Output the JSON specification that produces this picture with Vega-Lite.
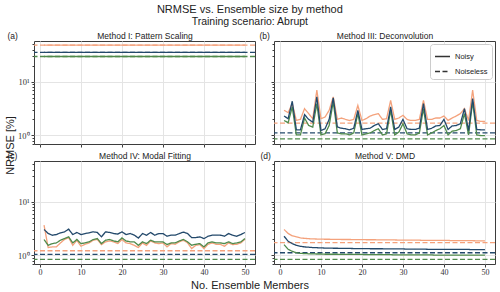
{
"$schema": "https://vega.github.io/schema/vega-lite/v6.json",
"padding": {"left": 3, "top": 3, "right": 6, "bottom": 1},
"title": {"text": "NRMSE vs. Ensemble size by method", "subtitle": "Training scenario: Abrupt", "anchor": "middle", "fontSize": 11, "fontWeight": "normal", "color": "#222", "font": "Liberation Sans", "subtitleFontSize": 10.5, "subtitleColor": "#222", "subtitlePadding": 2, "offset": 4, "subtitleFont": "Liberation Sans"},
"config": {
  "font": "Liberation Sans",
  "view": {"stroke": "#3d3d3d", "strokeWidth": 1},
  "axis": {"domain": false, "gridColor": "#e4e4e4", "gridWidth": 1, "tickColor": "#3d3d3d", "tickSize": 3, "labelFont": "Liberation Serif", "labelFontSize": 8.5, "labelColor": "#333", "titleFontWeight": "normal", "titleColor": "#222", "titleFont": "Liberation Sans"},
  "legend": {"title": null, "fillColor": "white", "strokeColor": "#cccccc", "cornerRadius": 3, "padding": 5, "labelFontSize": 8, "labelFont": "Liberation Sans", "labelColor": "#222", "symbolType": "stroke", "symbolSize": 300, "symbolStrokeWidth": 1.5, "rowPadding": 3}
},
"datasets": {
"noiseless": [
{"p":"a","scenario":"High Emissions","type":"Noiseless","nrmse":48.6},
{"p":"a","scenario":"Plateau","type":"Noiseless","nrmse":29.8},
{"p":"a","scenario":"Overshoot","type":"Noiseless","nrmse":35.5},
{"p":"b","scenario":"High Emissions","type":"Noiseless","nrmse":1.70},
{"p":"b","scenario":"Plateau","type":"Noiseless","nrmse":0.86},
{"p":"b","scenario":"Overshoot","type":"Noiseless","nrmse":1.11},
{"p":"c","scenario":"High Emissions","type":"Noiseless","nrmse":1.22},
{"p":"c","scenario":"Plateau","type":"Noiseless","nrmse":0.84},
{"p":"c","scenario":"Overshoot","type":"Noiseless","nrmse":1.04},
{"p":"d","scenario":"High Emissions","type":"Noiseless","nrmse":1.73},
{"p":"d","scenario":"Plateau","type":"Noiseless","nrmse":0.84},
{"p":"d","scenario":"Overshoot","type":"Noiseless","nrmse":1.12}
],
"noisy": [
{"p":"a","n":1,"type":"Noisy","High Emissions":48.6,"Plateau":29.8,"Overshoot":35.5},
{"p":"a","n":2,"type":"Noisy","High Emissions":48.6,"Plateau":29.8,"Overshoot":35.5},
{"p":"a","n":3,"type":"Noisy","High Emissions":48.6,"Plateau":29.8,"Overshoot":35.5},
{"p":"a","n":4,"type":"Noisy","High Emissions":48.6,"Plateau":29.8,"Overshoot":35.5},
{"p":"a","n":5,"type":"Noisy","High Emissions":48.6,"Plateau":29.8,"Overshoot":35.5},
{"p":"a","n":6,"type":"Noisy","High Emissions":48.6,"Plateau":29.8,"Overshoot":35.5},
{"p":"a","n":7,"type":"Noisy","High Emissions":48.6,"Plateau":29.8,"Overshoot":35.5},
{"p":"a","n":8,"type":"Noisy","High Emissions":48.6,"Plateau":29.8,"Overshoot":35.5},
{"p":"a","n":9,"type":"Noisy","High Emissions":48.6,"Plateau":29.8,"Overshoot":35.5},
{"p":"a","n":10,"type":"Noisy","High Emissions":48.6,"Plateau":29.8,"Overshoot":35.5},
{"p":"a","n":11,"type":"Noisy","High Emissions":48.6,"Plateau":29.8,"Overshoot":35.5},
{"p":"a","n":12,"type":"Noisy","High Emissions":48.6,"Plateau":29.8,"Overshoot":35.5},
{"p":"a","n":13,"type":"Noisy","High Emissions":48.6,"Plateau":29.8,"Overshoot":35.5},
{"p":"a","n":14,"type":"Noisy","High Emissions":48.6,"Plateau":29.8,"Overshoot":35.5},
{"p":"a","n":15,"type":"Noisy","High Emissions":48.6,"Plateau":29.8,"Overshoot":35.5},
{"p":"a","n":16,"type":"Noisy","High Emissions":48.6,"Plateau":29.8,"Overshoot":35.5},
{"p":"a","n":17,"type":"Noisy","High Emissions":48.6,"Plateau":29.8,"Overshoot":35.5},
{"p":"a","n":18,"type":"Noisy","High Emissions":48.6,"Plateau":29.8,"Overshoot":35.5},
{"p":"a","n":19,"type":"Noisy","High Emissions":48.6,"Plateau":29.8,"Overshoot":35.5},
{"p":"a","n":20,"type":"Noisy","High Emissions":48.6,"Plateau":29.8,"Overshoot":35.5},
{"p":"a","n":21,"type":"Noisy","High Emissions":48.6,"Plateau":29.8,"Overshoot":35.5},
{"p":"a","n":22,"type":"Noisy","High Emissions":48.6,"Plateau":29.8,"Overshoot":35.5},
{"p":"a","n":23,"type":"Noisy","High Emissions":48.6,"Plateau":29.8,"Overshoot":35.5},
{"p":"a","n":24,"type":"Noisy","High Emissions":48.6,"Plateau":29.8,"Overshoot":35.5},
{"p":"a","n":25,"type":"Noisy","High Emissions":48.6,"Plateau":29.8,"Overshoot":35.5},
{"p":"a","n":26,"type":"Noisy","High Emissions":48.6,"Plateau":29.8,"Overshoot":35.5},
{"p":"a","n":27,"type":"Noisy","High Emissions":48.6,"Plateau":29.8,"Overshoot":35.5},
{"p":"a","n":28,"type":"Noisy","High Emissions":48.6,"Plateau":29.8,"Overshoot":35.5},
{"p":"a","n":29,"type":"Noisy","High Emissions":48.6,"Plateau":29.8,"Overshoot":35.5},
{"p":"a","n":30,"type":"Noisy","High Emissions":48.6,"Plateau":29.8,"Overshoot":35.5},
{"p":"a","n":31,"type":"Noisy","High Emissions":48.6,"Plateau":29.8,"Overshoot":35.5},
{"p":"a","n":32,"type":"Noisy","High Emissions":48.6,"Plateau":29.8,"Overshoot":35.5},
{"p":"a","n":33,"type":"Noisy","High Emissions":48.6,"Plateau":29.8,"Overshoot":35.5},
{"p":"a","n":34,"type":"Noisy","High Emissions":48.6,"Plateau":29.8,"Overshoot":35.5},
{"p":"a","n":35,"type":"Noisy","High Emissions":48.6,"Plateau":29.8,"Overshoot":35.5},
{"p":"a","n":36,"type":"Noisy","High Emissions":48.6,"Plateau":29.8,"Overshoot":35.5},
{"p":"a","n":37,"type":"Noisy","High Emissions":48.6,"Plateau":29.8,"Overshoot":35.5},
{"p":"a","n":38,"type":"Noisy","High Emissions":48.6,"Plateau":29.8,"Overshoot":35.5},
{"p":"a","n":39,"type":"Noisy","High Emissions":48.6,"Plateau":29.8,"Overshoot":35.5},
{"p":"a","n":40,"type":"Noisy","High Emissions":48.6,"Plateau":29.8,"Overshoot":35.5},
{"p":"a","n":41,"type":"Noisy","High Emissions":48.6,"Plateau":29.8,"Overshoot":35.5},
{"p":"a","n":42,"type":"Noisy","High Emissions":48.6,"Plateau":29.8,"Overshoot":35.5},
{"p":"a","n":43,"type":"Noisy","High Emissions":48.6,"Plateau":29.8,"Overshoot":35.5},
{"p":"a","n":44,"type":"Noisy","High Emissions":48.6,"Plateau":29.8,"Overshoot":35.5},
{"p":"a","n":45,"type":"Noisy","High Emissions":48.6,"Plateau":29.8,"Overshoot":35.5},
{"p":"a","n":46,"type":"Noisy","High Emissions":48.6,"Plateau":29.8,"Overshoot":35.5},
{"p":"a","n":47,"type":"Noisy","High Emissions":48.6,"Plateau":29.8,"Overshoot":35.5},
{"p":"a","n":48,"type":"Noisy","High Emissions":48.6,"Plateau":29.8,"Overshoot":35.5},
{"p":"a","n":49,"type":"Noisy","High Emissions":48.6,"Plateau":29.8,"Overshoot":35.5},
{"p":"a","n":50,"type":"Noisy","High Emissions":48.6,"Plateau":29.8,"Overshoot":35.5},
{"p":"b","n":1,"type":"Noisy","High Emissions":2.94,"Plateau":1.90,"Overshoot":2.30},
{"p":"b","n":2,"type":"Noisy","High Emissions":2.66,"Plateau":1.72,"Overshoot":2.05},
{"p":"b","n":3,"type":"Noisy","High Emissions":3.93,"Plateau":3.40,"Overshoot":4.34},
{"p":"b","n":4,"type":"Noisy","High Emissions":1.90,"Plateau":1.02,"Overshoot":1.27},
{"p":"b","n":5,"type":"Noisy","High Emissions":1.99,"Plateau":1.02,"Overshoot":1.27},
{"p":"b","n":6,"type":"Noisy","High Emissions":3.16,"Plateau":2.11,"Overshoot":2.44},
{"p":"b","n":7,"type":"Noisy","High Emissions":2.55,"Plateau":1.53,"Overshoot":1.99},
{"p":"b","n":8,"type":"Noisy","High Emissions":2.05,"Plateau":1.43,"Overshoot":1.77},
{"p":"b","n":9,"type":"Noisy","High Emissions":7.0,"Plateau":3.93,"Overshoot":5.25},
{"p":"b","n":10,"type":"Noisy","High Emissions":2.05,"Plateau":1.02,"Overshoot":1.23},
{"p":"b","n":11,"type":"Noisy","High Emissions":2.2,"Plateau":1.07,"Overshoot":1.33},
{"p":"b","n":12,"type":"Noisy","High Emissions":2.94,"Plateau":1.53,"Overshoot":1.99},
{"p":"b","n":13,"type":"Noisy","High Emissions":5.25,"Plateau":4.23,"Overshoot":5.03},
{"p":"b","n":14,"type":"Noisy","High Emissions":1.99,"Plateau":1.11,"Overshoot":1.43},
{"p":"b","n":15,"type":"Noisy","High Emissions":2.11,"Plateau":1.07,"Overshoot":1.36},
{"p":"b","n":16,"type":"Noisy","High Emissions":1.99,"Plateau":1.07,"Overshoot":1.33},
{"p":"b","n":17,"type":"Noisy","High Emissions":1.90,"Plateau":1.02,"Overshoot":1.27},
{"p":"b","n":18,"type":"Noisy","High Emissions":1.99,"Plateau":1.11,"Overshoot":1.36},
{"p":"b","n":19,"type":"Noisy","High Emissions":3.64,"Plateau":2.55,"Overshoot":2.94},
{"p":"b","n":20,"type":"Noisy","High Emissions":1.90,"Plateau":1.02,"Overshoot":1.29},
{"p":"b","n":21,"type":"Noisy","High Emissions":2.05,"Plateau":1.07,"Overshoot":1.33},
{"p":"b","n":22,"type":"Noisy","High Emissions":2.3,"Plateau":1.11,"Overshoot":1.36},
{"p":"b","n":23,"type":"Noisy","High Emissions":2.44,"Plateau":1.23,"Overshoot":1.53},
{"p":"b","n":24,"type":"Noisy","High Emissions":2.55,"Plateau":1.33,"Overshoot":1.65},
{"p":"b","n":25,"type":"Noisy","High Emissions":1.99,"Plateau":1.02,"Overshoot":1.29},
{"p":"b","n":26,"type":"Noisy","High Emissions":2.05,"Plateau":1.07,"Overshoot":1.33},
{"p":"b","n":27,"type":"Noisy","High Emissions":4.5,"Plateau":2.94,"Overshoot":3.40},
{"p":"b","n":28,"type":"Noisy","High Emissions":1.99,"Plateau":1.02,"Overshoot":1.29},
{"p":"b","n":29,"type":"Noisy","High Emissions":2.11,"Plateau":1.15,"Overshoot":1.43},
{"p":"b","n":30,"type":"Noisy","High Emissions":2.37,"Plateau":1.65,"Overshoot":1.99},
{"p":"b","n":31,"type":"Noisy","High Emissions":1.99,"Plateau":1.07,"Overshoot":1.33},
{"p":"b","n":32,"type":"Noisy","High Emissions":1.90,"Plateau":1.02,"Overshoot":1.29},
{"p":"b","n":33,"type":"Noisy","High Emissions":1.90,"Plateau":1.02,"Overshoot":1.29},
{"p":"b","n":34,"type":"Noisy","High Emissions":1.99,"Plateau":1.11,"Overshoot":1.36},
{"p":"b","n":35,"type":"Noisy","High Emissions":4.5,"Plateau":3.16,"Overshoot":3.93},
{"p":"b","n":36,"type":"Noisy","High Emissions":1.99,"Plateau":1.02,"Overshoot":1.29},
{"p":"b","n":37,"type":"Noisy","High Emissions":1.99,"Plateau":1.11,"Overshoot":1.36},
{"p":"b","n":38,"type":"Noisy","High Emissions":2.11,"Plateau":1.23,"Overshoot":1.5},
{"p":"b","n":39,"type":"Noisy","High Emissions":2.11,"Plateau":1.33,"Overshoot":1.53},
{"p":"b","n":40,"type":"Noisy","High Emissions":2.3,"Plateau":1.53,"Overshoot":1.99},
{"p":"b","n":41,"type":"Noisy","High Emissions":1.90,"Plateau":1.02,"Overshoot":1.29},
{"p":"b","n":42,"type":"Noisy","High Emissions":2.11,"Plateau":1.2,"Overshoot":1.5},
{"p":"b","n":43,"type":"Noisy","High Emissions":2.3,"Plateau":1.23,"Overshoot":1.53},
{"p":"b","n":44,"type":"Noisy","High Emissions":2.55,"Plateau":1.33,"Overshoot":1.65},
{"p":"b","n":45,"type":"Noisy","High Emissions":3.16,"Plateau":2.55,"Overshoot":3.16},
{"p":"b","n":46,"type":"Noisy","High Emissions":1.90,"Plateau":1.02,"Overshoot":1.23},
{"p":"b","n":47,"type":"Noisy","High Emissions":7.0,"Plateau":4.23,"Overshoot":4.88},
{"p":"b","n":48,"type":"Noisy","High Emissions":1.90,"Plateau":1.02,"Overshoot":1.29},
{"p":"b","n":49,"type":"Noisy","High Emissions":1.82,"Plateau":0.99,"Overshoot":1.27},
{"p":"b","n":50,"type":"Noisy","High Emissions":1.82,"Plateau":0.99,"Overshoot":1.27},
{"p":"c","n":1,"type":"Noisy","High Emissions":3.68,"Plateau":1.98,"Overshoot":3.05},
{"p":"c","n":2,"type":"Noisy","High Emissions":1.40,"Plateau":1.54,"Overshoot":2.57},
{"p":"c","n":3,"type":"Noisy","High Emissions":1.44,"Plateau":1.66,"Overshoot":2.38},
{"p":"c","n":4,"type":"Noisy","High Emissions":1.44,"Plateau":1.71,"Overshoot":2.45},
{"p":"c","n":5,"type":"Noisy","High Emissions":1.71,"Plateau":1.92,"Overshoot":2.64},
{"p":"c","n":6,"type":"Noisy","High Emissions":1.98,"Plateau":2.06,"Overshoot":2.75},
{"p":"c","n":7,"type":"Noisy","High Emissions":2.15,"Plateau":2.22,"Overshoot":3.09},
{"p":"c","n":8,"type":"Noisy","High Emissions":1.54,"Plateau":1.71,"Overshoot":2.45},
{"p":"c","n":9,"type":"Noisy","High Emissions":1.92,"Plateau":1.98,"Overshoot":2.68},
{"p":"c","n":10,"type":"Noisy","High Emissions":1.48,"Plateau":1.66,"Overshoot":2.45},
{"p":"c","n":11,"type":"Noisy","High Emissions":1.61,"Plateau":1.71,"Overshoot":2.56},
{"p":"c","n":12,"type":"Noisy","High Emissions":1.71,"Plateau":1.79,"Overshoot":2.64},
{"p":"c","n":13,"type":"Noisy","High Emissions":1.92,"Plateau":1.98,"Overshoot":2.75},
{"p":"c","n":14,"type":"Noisy","High Emissions":1.98,"Plateau":2.06,"Overshoot":2.68},
{"p":"c","n":15,"type":"Noisy","High Emissions":1.59,"Plateau":1.66,"Overshoot":2.22},
{"p":"c","n":16,"type":"Noisy","High Emissions":1.79,"Plateau":1.92,"Overshoot":2.75},
{"p":"c","n":17,"type":"Noisy","High Emissions":1.86,"Plateau":1.98,"Overshoot":2.68},
{"p":"c","n":18,"type":"Noisy","High Emissions":1.79,"Plateau":1.86,"Overshoot":2.56},
{"p":"c","n":19,"type":"Noisy","High Emissions":1.66,"Plateau":1.79,"Overshoot":2.5},
{"p":"c","n":20,"type":"Noisy","High Emissions":1.98,"Plateau":2.12,"Overshoot":2.75},
{"p":"c","n":21,"type":"Noisy","High Emissions":1.71,"Plateau":1.86,"Overshoot":2.45},
{"p":"c","n":22,"type":"Noisy","High Emissions":1.66,"Plateau":1.79,"Overshoot":2.56},
{"p":"c","n":23,"type":"Noisy","High Emissions":1.54,"Plateau":1.79,"Overshoot":2.4},
{"p":"c","n":24,"type":"Noisy","High Emissions":1.40,"Plateau":1.54,"Overshoot":2.1},
{"p":"c","n":25,"type":"Noisy","High Emissions":1.71,"Plateau":1.79,"Overshoot":2.56},
{"p":"c","n":26,"type":"Noisy","High Emissions":1.54,"Plateau":1.66,"Overshoot":2.38},
{"p":"c","n":27,"type":"Noisy","High Emissions":1.86,"Plateau":1.92,"Overshoot":2.68},
{"p":"c","n":28,"type":"Noisy","High Emissions":1.71,"Plateau":1.79,"Overshoot":2.38},
{"p":"c","n":29,"type":"Noisy","High Emissions":1.66,"Plateau":1.79,"Overshoot":2.56},
{"p":"c","n":30,"type":"Noisy","High Emissions":1.71,"Plateau":1.79,"Overshoot":2.56},
{"p":"c","n":31,"type":"Noisy","High Emissions":1.44,"Plateau":1.59,"Overshoot":2.28},
{"p":"c","n":32,"type":"Noisy","High Emissions":1.66,"Plateau":1.71,"Overshoot":2.38},
{"p":"c","n":33,"type":"Noisy","High Emissions":1.61,"Plateau":1.71,"Overshoot":2.38},
{"p":"c","n":34,"type":"Noisy","High Emissions":1.79,"Plateau":1.86,"Overshoot":2.56},
{"p":"c","n":35,"type":"Noisy","High Emissions":1.92,"Plateau":1.98,"Overshoot":2.72},
{"p":"c","n":36,"type":"Noisy","High Emissions":1.71,"Plateau":1.79,"Overshoot":2.56},
{"p":"c","n":37,"type":"Noisy","High Emissions":1.34,"Plateau":1.54,"Overshoot":2.15},
{"p":"c","n":38,"type":"Noisy","High Emissions":1.54,"Plateau":1.61,"Overshoot":2.15},
{"p":"c","n":39,"type":"Noisy","High Emissions":1.59,"Plateau":1.66,"Overshoot":2.22},
{"p":"c","n":40,"type":"Noisy","High Emissions":1.34,"Plateau":1.44,"Overshoot":2.06},
{"p":"c","n":41,"type":"Noisy","High Emissions":1.61,"Plateau":1.71,"Overshoot":2.28},
{"p":"c","n":42,"type":"Noisy","High Emissions":1.71,"Plateau":1.79,"Overshoot":2.38},
{"p":"c","n":43,"type":"Noisy","High Emissions":1.61,"Plateau":1.71,"Overshoot":2.38},
{"p":"c","n":44,"type":"Noisy","High Emissions":1.61,"Plateau":1.71,"Overshoot":2.38},
{"p":"c","n":45,"type":"Noisy","High Emissions":1.48,"Plateau":1.66,"Overshoot":2.28},
{"p":"c","n":46,"type":"Noisy","High Emissions":1.71,"Plateau":1.79,"Overshoot":2.56},
{"p":"c","n":47,"type":"Noisy","High Emissions":1.59,"Plateau":1.66,"Overshoot":2.38},
{"p":"c","n":48,"type":"Noisy","High Emissions":1.61,"Plateau":1.71,"Overshoot":2.28},
{"p":"c","n":49,"type":"Noisy","High Emissions":1.71,"Plateau":1.79,"Overshoot":2.45},
{"p":"c","n":50,"type":"Noisy","High Emissions":2.0,"Plateau":2.06,"Overshoot":2.68},
{"p":"d","n":1,"type":"Noisy","High Emissions":3.05,"Plateau":1.59,"Overshoot":2.28},
{"p":"d","n":2,"type":"Noisy","High Emissions":2.57,"Plateau":1.30,"Overshoot":1.84},
{"p":"d","n":3,"type":"Noisy","High Emissions":2.32,"Plateau":1.19,"Overshoot":1.66},
{"p":"d","n":4,"type":"Noisy","High Emissions":2.22,"Plateau":1.12,"Overshoot":1.54},
{"p":"d","n":5,"type":"Noisy","High Emissions":2.12,"Plateau":1.09,"Overshoot":1.48},
{"p":"d","n":6,"type":"Noisy","High Emissions":2.08,"Plateau":1.08,"Overshoot":1.44},
{"p":"d","n":7,"type":"Noisy","High Emissions":2.05,"Plateau":1.07,"Overshoot":1.42},
{"p":"d","n":8,"type":"Noisy","High Emissions":2.03,"Plateau":1.07,"Overshoot":1.40},
{"p":"d","n":9,"type":"Noisy","High Emissions":2.02,"Plateau":1.06,"Overshoot":1.39},
{"p":"d","n":10,"type":"Noisy","High Emissions":2.01,"Plateau":1.06,"Overshoot":1.38},
{"p":"d","n":11,"type":"Noisy","High Emissions":2.0,"Plateau":1.05,"Overshoot":1.37},
{"p":"d","n":12,"type":"Noisy","High Emissions":2.0,"Plateau":1.05,"Overshoot":1.37},
{"p":"d","n":13,"type":"Noisy","High Emissions":1.99,"Plateau":1.05,"Overshoot":1.36},
{"p":"d","n":14,"type":"Noisy","High Emissions":1.99,"Plateau":1.05,"Overshoot":1.36},
{"p":"d","n":15,"type":"Noisy","High Emissions":1.98,"Plateau":1.04,"Overshoot":1.35},
{"p":"d","n":16,"type":"Noisy","High Emissions":1.98,"Plateau":1.04,"Overshoot":1.35},
{"p":"d","n":17,"type":"Noisy","High Emissions":1.98,"Plateau":1.04,"Overshoot":1.35},
{"p":"d","n":18,"type":"Noisy","High Emissions":1.97,"Plateau":1.04,"Overshoot":1.34},
{"p":"d","n":19,"type":"Noisy","High Emissions":1.97,"Plateau":1.04,"Overshoot":1.34},
{"p":"d","n":20,"type":"Noisy","High Emissions":1.97,"Plateau":1.04,"Overshoot":1.34},
{"p":"d","n":21,"type":"Noisy","High Emissions":1.96,"Plateau":1.03,"Overshoot":1.34},
{"p":"d","n":22,"type":"Noisy","High Emissions":1.96,"Plateau":1.03,"Overshoot":1.33},
{"p":"d","n":23,"type":"Noisy","High Emissions":1.96,"Plateau":1.03,"Overshoot":1.33},
{"p":"d","n":24,"type":"Noisy","High Emissions":1.95,"Plateau":1.03,"Overshoot":1.33},
{"p":"d","n":25,"type":"Noisy","High Emissions":1.95,"Plateau":1.03,"Overshoot":1.33},
{"p":"d","n":26,"type":"Noisy","High Emissions":1.95,"Plateau":1.03,"Overshoot":1.32},
{"p":"d","n":27,"type":"Noisy","High Emissions":1.94,"Plateau":1.03,"Overshoot":1.32},
{"p":"d","n":28,"type":"Noisy","High Emissions":1.94,"Plateau":1.02,"Overshoot":1.32},
{"p":"d","n":29,"type":"Noisy","High Emissions":1.93,"Plateau":1.02,"Overshoot":1.32},
{"p":"d","n":30,"type":"Noisy","High Emissions":1.93,"Plateau":1.02,"Overshoot":1.32},
{"p":"d","n":31,"type":"Noisy","High Emissions":1.93,"Plateau":1.02,"Overshoot":1.31},
{"p":"d","n":32,"type":"Noisy","High Emissions":1.92,"Plateau":1.02,"Overshoot":1.31},
{"p":"d","n":33,"type":"Noisy","High Emissions":1.92,"Plateau":1.02,"Overshoot":1.31},
{"p":"d","n":34,"type":"Noisy","High Emissions":1.92,"Plateau":1.02,"Overshoot":1.31},
{"p":"d","n":35,"type":"Noisy","High Emissions":1.91,"Plateau":1.02,"Overshoot":1.31},
{"p":"d","n":36,"type":"Noisy","High Emissions":1.91,"Plateau":1.02,"Overshoot":1.3},
{"p":"d","n":37,"type":"Noisy","High Emissions":1.91,"Plateau":1.02,"Overshoot":1.3},
{"p":"d","n":38,"type":"Noisy","High Emissions":1.9,"Plateau":1.01,"Overshoot":1.3},
{"p":"d","n":39,"type":"Noisy","High Emissions":1.9,"Plateau":1.01,"Overshoot":1.3},
{"p":"d","n":40,"type":"Noisy","High Emissions":1.9,"Plateau":1.01,"Overshoot":1.3},
{"p":"d","n":41,"type":"Noisy","High Emissions":1.9,"Plateau":1.01,"Overshoot":1.3},
{"p":"d","n":42,"type":"Noisy","High Emissions":1.89,"Plateau":1.01,"Overshoot":1.29},
{"p":"d","n":43,"type":"Noisy","High Emissions":1.89,"Plateau":1.01,"Overshoot":1.29},
{"p":"d","n":44,"type":"Noisy","High Emissions":1.89,"Plateau":1.01,"Overshoot":1.29},
{"p":"d","n":45,"type":"Noisy","High Emissions":1.88,"Plateau":1.01,"Overshoot":1.29},
{"p":"d","n":46,"type":"Noisy","High Emissions":1.88,"Plateau":1.01,"Overshoot":1.29},
{"p":"d","n":47,"type":"Noisy","High Emissions":1.88,"Plateau":1.01,"Overshoot":1.28},
{"p":"d","n":48,"type":"Noisy","High Emissions":1.87,"Plateau":1.01,"Overshoot":1.28},
{"p":"d","n":49,"type":"Noisy","High Emissions":1.87,"Plateau":1.01,"Overshoot":1.28},
{"p":"d","n":50,"type":"Noisy","High Emissions":1.87,"Plateau":1.01,"Overshoot":1.28}
]
},
"columns": 2,
"spacing": {"row": 17, "column": 19},
"bounds": "flush",
"resolve": {"scale": {"color": "independent", "strokeDash": "independent"}, "legend": {"color": "independent", "strokeDash": "independent"}},
"concat": [
{
  "width": 221, "height": 103,
  "layer": [
    {
      "data": {"name": "noiseless"},
      "transform": [{"filter": "datum.p === 'a'"}],
      "mark": {"type": "rule", "strokeWidth": 1.3},
      "encoding": {
        "y": {"field": "nrmse", "type": "quantitative", "scale": {"type": "log", "domain": [0.69, 58], "nice": false}, "axis": {"orient": "left", "values": [0.7,0.8,0.9,2,3,4,5,6,7,8,9,20,30,40,50], "labels": false, "grid": false, "tickSize": 2, "title": "(a)", "titleAngle": 0, "titleX": -27, "titleY": -5.5, "titleAlign": "left", "titleBaseline": "middle", "titleFontSize": 8.5}},
        "color": {"field": "scenario", "type": "nominal", "scale": {"domain": ["High Emissions","Plateau","Overshoot"], "range": ["#f4a27c","#4f8a4b","#23496b"]}, "legend": null},
        "strokeDash": {"field": "type", "type": "nominal", "scale": {"domain": ["Noisy","Noiseless"], "range": [[1,0],[5,2.5]]}, "legend": null}
      }
    },
    {
      "data": {"name": "noisy"},
      "transform": [{"filter": "datum.p === 'a'"}, {"fold": ["High Emissions","Plateau","Overshoot"], "as": ["scenario","nrmse"]}],
      "mark": {"type": "line", "strokeWidth": 1.3},
      "encoding": {
        "x": {"field": "n", "type": "quantitative", "scale": {"domain": [-1.45, 52.45], "nice": false, "zero": false}, "axis": {"values": [0,10,20,30,40,50], "labels": false, "grid": true, "title": "NRMSE [%]", "titleAngle": -90, "titleX": -19, "titleY": 1, "titleAlign": "center", "titleBaseline": "bottom", "titleFontSize": 11}},
        "y": {"field": "nrmse", "type": "quantitative", "axis": {"orient": "left", "values": [1,10], "labelExpr": "datum.value < 5 ? '10⁰' : '10¹'", "grid": true, "title": "Method I: Pattern Scaling", "titleAngle": 0, "titleX": 110.5, "titleY": -5.5, "titleAlign": "center", "titleBaseline": "middle", "titleFontSize": 8.5}},
        "color": {"field": "scenario", "type": "nominal", "legend": {"orient": "bottom-left", "offset": 4}},
        "strokeDash": {"field": "type", "type": "nominal", "legend": null}
      }
    }
  ],
  "resolve": {"axis": {"y": "independent"}}
},
{
  "width": 221, "height": 103,
  "layer": [
    {
      "data": {"name": "noiseless"},
      "transform": [{"filter": "datum.p === 'b'"}],
      "mark": {"type": "rule", "strokeWidth": 1.3},
      "encoding": {
        "y": {"field": "nrmse", "type": "quantitative", "scale": {"type": "log", "domain": [0.69, 58], "nice": false}, "axis": {"orient": "left", "values": [0.7,0.8,0.9,2,3,4,5,6,7,8,9,20,30,40,50], "labels": false, "grid": false, "tickSize": 2, "title": "(b)", "titleAngle": 0, "titleX": -15, "titleY": -5.5, "titleAlign": "left", "titleBaseline": "middle", "titleFontSize": 8.5}},
        "color": {"field": "scenario", "type": "nominal", "scale": {"domain": ["High Emissions","Plateau","Overshoot"], "range": ["#f4a27c","#4f8a4b","#23496b"]}, "legend": null},
        "strokeDash": {"field": "type", "type": "nominal", "scale": {"domain": ["Noisy","Noiseless"], "range": [[1,0],[5,2.5]]}, "legend": {"orient": "top-right", "offset": 3, "symbolStrokeColor": "#333333", "symbolSize": 225, "labelFontSize": 7.5, "padding": 4}}
      }
    },
    {
      "data": {"name": "noisy"},
      "transform": [{"filter": "datum.p === 'b'"}, {"fold": ["High Emissions","Plateau","Overshoot"], "as": ["scenario","nrmse"]}],
      "mark": {"type": "line", "strokeWidth": 1.3},
      "encoding": {
        "x": {"field": "n", "type": "quantitative", "scale": {"domain": [-1.45, 52.45], "nice": false, "zero": false}, "axis": {"values": [0,10,20,30,40,50], "labels": false, "title": null, "grid": true}},
        "y": {"field": "nrmse", "type": "quantitative", "axis": {"orient": "left", "values": [1,10], "labels": false, "grid": true, "title": "Method III: Deconvolution", "titleAngle": 0, "titleX": 110.5, "titleY": -5.5, "titleAlign": "center", "titleBaseline": "middle", "titleFontSize": 8.5}},
        "color": {"field": "scenario", "type": "nominal", "legend": null},
        "strokeDash": {"field": "type", "type": "nominal", "legend": {"orient": "top-right", "offset": 3, "symbolStrokeColor": "#333333", "symbolSize": 225, "labelFontSize": 7.5, "padding": 4}}
      }
    }
  ],
  "resolve": {"axis": {"y": "independent"}}
},
{
  "width": 221, "height": 103,
  "layer": [
    {
      "data": {"name": "noiseless"},
      "transform": [{"filter": "datum.p === 'c'"}],
      "mark": {"type": "rule", "strokeWidth": 1.3},
      "encoding": {
        "y": {"field": "nrmse", "type": "quantitative", "scale": {"type": "log", "domain": [0.69, 58], "nice": false}, "axis": {"orient": "left", "values": [0.7,0.8,0.9,2,3,4,5,6,7,8,9,20,30,40,50], "labels": false, "grid": false, "tickSize": 2, "title": "(c)", "titleAngle": 0, "titleX": -27, "titleY": -6, "titleAlign": "left", "titleBaseline": "middle", "titleFontSize": 8.5}},
        "color": {"field": "scenario", "type": "nominal", "scale": {"domain": ["High Emissions","Plateau","Overshoot"], "range": ["#f4a27c","#4f8a4b","#23496b"]}, "legend": null},
        "strokeDash": {"field": "type", "type": "nominal", "scale": {"domain": ["Noisy","Noiseless"], "range": [[1,0],[5,2.5]]}, "legend": null}
      }
    },
    {
      "data": {"name": "noisy"},
      "transform": [{"filter": "datum.p === 'c'"}, {"fold": ["High Emissions","Plateau","Overshoot"], "as": ["scenario","nrmse"]}],
      "mark": {"type": "line", "strokeWidth": 1.3},
      "encoding": {
        "x": {"field": "n", "type": "quantitative", "scale": {"domain": [-1.45, 52.45], "nice": false, "zero": false}, "axis": {"values": [0,10,20,30,40,50], "grid": true, "labelFontSize": 8, "labelPadding": 1, "title": "No. Ensemble Members", "titleX": 215.5, "titleY": 21, "titleAlign": "center", "titleBaseline": "middle", "titleFontSize": 11}},
        "y": {"field": "nrmse", "type": "quantitative", "axis": {"orient": "left", "values": [1,10], "labelExpr": "datum.value < 5 ? '10⁰' : '10¹'", "grid": true, "title": "Method IV: Modal Fitting", "titleAngle": 0, "titleX": 110.5, "titleY": -6, "titleAlign": "center", "titleBaseline": "middle", "titleFontSize": 8.5}},
        "color": {"field": "scenario", "type": "nominal", "legend": null},
        "strokeDash": {"field": "type", "type": "nominal", "legend": null}
      }
    }
  ],
  "resolve": {"axis": {"y": "independent"}}
},
{
  "width": 221, "height": 103,
  "layer": [
    {
      "data": {"name": "noiseless"},
      "transform": [{"filter": "datum.p === 'd'"}],
      "mark": {"type": "rule", "strokeWidth": 1.3},
      "encoding": {
        "y": {"field": "nrmse", "type": "quantitative", "scale": {"type": "log", "domain": [0.69, 58], "nice": false}, "axis": {"orient": "left", "values": [0.7,0.8,0.9,2,3,4,5,6,7,8,9,20,30,40,50], "labels": false, "grid": false, "tickSize": 2, "title": "(d)", "titleAngle": 0, "titleX": -14, "titleY": -6, "titleAlign": "left", "titleBaseline": "middle", "titleFontSize": 8.5}},
        "color": {"field": "scenario", "type": "nominal", "scale": {"domain": ["High Emissions","Plateau","Overshoot"], "range": ["#f4a27c","#4f8a4b","#23496b"]}, "legend": null},
        "strokeDash": {"field": "type", "type": "nominal", "scale": {"domain": ["Noisy","Noiseless"], "range": [[1,0],[5,2.5]]}, "legend": null}
      }
    },
    {
      "data": {"name": "noisy"},
      "transform": [{"filter": "datum.p === 'd'"}, {"fold": ["High Emissions","Plateau","Overshoot"], "as": ["scenario","nrmse"]}],
      "mark": {"type": "line", "strokeWidth": 1.3},
      "encoding": {
        "x": {"field": "n", "type": "quantitative", "scale": {"domain": [-1.45, 52.45], "nice": false, "zero": false}, "axis": {"values": [0,10,20,30,40,50], "grid": true, "labelFontSize": 8, "labelPadding": 1, "title": null}},
        "y": {"field": "nrmse", "type": "quantitative", "axis": {"orient": "left", "values": [1,10], "labels": false, "grid": true, "title": "Method V: DMD", "titleAngle": 0, "titleX": 110.5, "titleY": -6, "titleAlign": "center", "titleBaseline": "middle", "titleFontSize": 8.5}},
        "color": {"field": "scenario", "type": "nominal", "legend": null},
        "strokeDash": {"field": "type", "type": "nominal", "legend": null}
      }
    }
  ],
  "resolve": {"axis": {"y": "independent"}}
}
]
}
